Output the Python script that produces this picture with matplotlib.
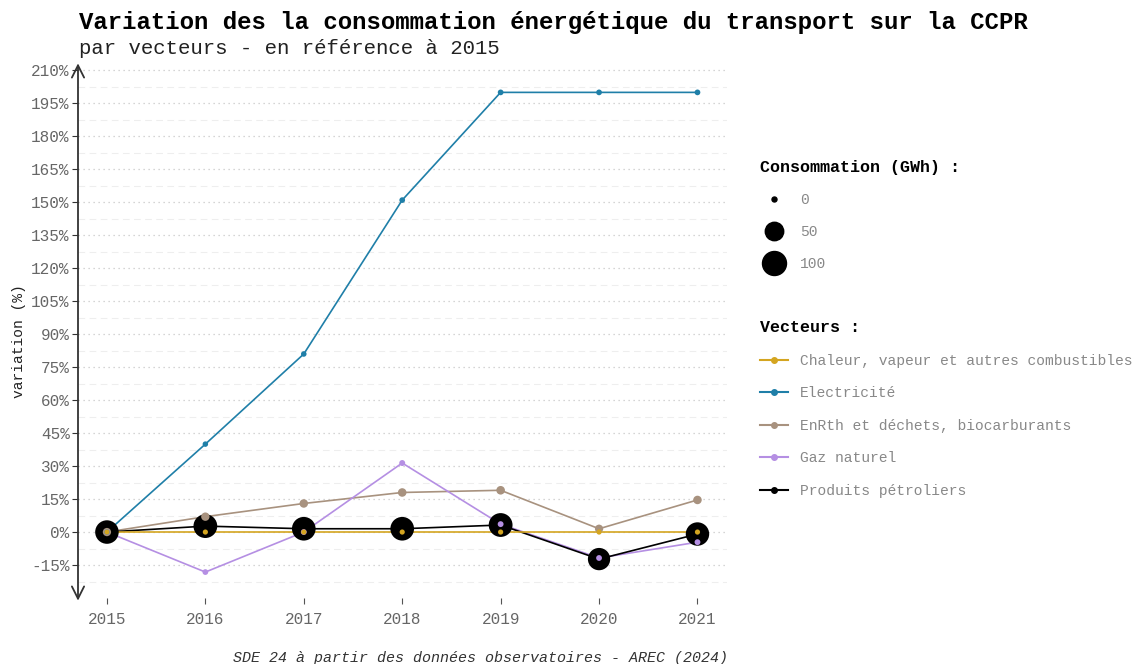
import matplotlib
matplotlib.use("Agg")
import matplotlib.pyplot as plt
from matplotlib.lines import Line2D
import numpy as np

plt.rcParams['font.family'] = ['Liberation Mono', 'DejaVu Sans Mono']

# data
years = [2015, 2016, 2017, 2018, 2019, 2020, 2021]
vecteurs = ["Chaleur, vapeur et autres combustibles", "Electricité",
            "EnRth et déchets, biocarburants", "Gaz naturel", "Produits pétroliers"]
colors = ["#d4a520", "#1f7fa8", "#a8927f", "#b58fe3", "#000000"]

var_chaleur = [0, 0, 0, 0, 0, 0, 0]
var_elec = [0, 40, 81, 151, 200, 200, 200]
var_enrth = [0, 7, 13, 18, 19, 1.5, 14.6]
var_gaz = [0, -18.2, 0, 31.4, 3.6, -11.8, -4.6]
var_petro = [0, 2.7, 1.5, 1.5, 3.2, -12.3, -0.9]

# consumption in GWh (marker size)
conso_chaleur = [0.01, 0.01, 0.01, 0.01, 0.01, 0.01, 0.01]
conso_elec = [0.05, 0.07, 0.09, 0.13, 0.15, 0.15, 0.15]
conso_enrth = [3.0, 3.2, 3.4, 3.5, 3.6, 3.0, 3.4]
conso_gaz = [0.2, 0.16, 0.2, 0.26, 0.21, 0.18, 0.19]
conso_petro = [95, 97.5, 96.4, 96.4, 98, 83, 94]

variations = [var_chaleur, var_elec, var_enrth, var_gaz, var_petro]
consos = [conso_chaleur, conso_elec, conso_enrth, conso_gaz, conso_petro]

legend_sizes = [0, 50, 100]


def diam_pt(v):
    # marker diameter (points), area scale like ggplot scale_size
    return (5 + 1.9 * np.sqrt(np.asarray(v, dtype=float))) * 0.72


fig = plt.figure(figsize=(11.44, 6.64), dpi=100)
ax = fig.add_axes([78 / 1144, 1 - 598 / 664, 649 / 1144, 532 / 664])

# lines
for i, (v, c) in enumerate(zip(variations, colors)):
    ax.plot(years, v, color=c, lw=1.2, zorder=3 + (i == 0) * 0.5)

# points, biggest first
order = [4, 2, 3, 1, 0]
for k, i in enumerate(order):
    ax.scatter(years, variations[i], s=diam_pt(consos[i]) ** 2, color=colors[i],
               zorder=4 + k, linewidths=0)

ax.set_xlim(2014.706, 2021.3)
ax.set_ylim(-30, 212)
ax.set_xticks(years)
ax.set_xticklabels([str(y) for y in years])
yt = np.arange(-15, 211, 15)
ax.set_yticks(yt)
ax.set_yticklabels([f"{t}%" for t in yt])
ax.set_yticks(np.arange(-22.5, 211, 15), minor=True)

ax.grid(axis='y', which='major', linestyle=(0, (1, 3)), color='#c8c8c8', lw=0.9)
ax.grid(axis='y', which='minor', linestyle=(0, (6, 4)), color='#eeeeee', lw=0.8)
ax.set_axisbelow(True)

for s in ax.spines.values():
    s.set_visible(False)
ax.annotate('', xy=(0, 1.005), xytext=(0, -0.005), xycoords='axes fraction',
            arrowprops=dict(arrowstyle='<->', lw=1.3, color='#333333',
                            mutation_scale=22, shrinkA=0, shrinkB=0))

ax.tick_params(axis='y', which='major', length=4, color='#333333', labelsize=11.5,
               labelcolor='#666666', pad=2)
ax.tick_params(axis='y', which='minor', length=0)
ax.tick_params(axis='x', length=4, color='#555555', labelsize=11.5,
               labelcolor='#666666', pad=6)

fig.text(19 / 1144, 1 - 341 / 664, "variation (%)", rotation=90, fontsize=10.5,
         color='#222222', va='center', ha='center')

fig.text(79 / 1144, 1 - 22 / 664, "Variation des la consommation énergétique du transport sur la CCPR",
         fontsize=17.25, fontweight='bold', va='center', ha='left')
fig.text(79 / 1144, 1 - 48 / 664, "par vecteurs - en référence à 2015",
         fontsize=14.9, va='center', ha='left', color='#222222')
fig.text(728 / 1144, 1 - 658 / 664, "SDE 24 à partir des données observatoires - AREC (2024)",
         fontsize=10.8, style='italic', va='center', ha='right', color='#333333')

# size legend
size_handles = [Line2D([], [], ls='none', marker='o', color='black',
                       markersize=diam_pt(v)) for v in legend_sizes]
leg1 = fig.legend(size_handles, [str(v) for v in legend_sizes],
                  title="Consommation (GWh) :", loc='upper left',
                  bbox_to_anchor=(747 / 1144, 1 - 147 / 664), frameon=False,
                  fontsize=10.5, title_fontproperties={'weight': 'bold', 'size': 12},
                  labelspacing=1.24, handlelength=1.9, handletextpad=0.85,
                  labelcolor='#888888')
leg1._legend_box.align = "left"

line_handles = [Line2D([], [], color=c, lw=1.5, marker='o', markersize=4)
                for c in colors]
leg2 = fig.legend(line_handles, vecteurs, title="Vecteurs :", loc='upper left',
                  bbox_to_anchor=(747 / 1144, 1 - 307 / 664), frameon=False,
                  fontsize=10.5, title_fontproperties={'weight': 'bold', 'size': 12},
                  labelspacing=1.27, handlelength=1.9, handletextpad=0.85,
                  labelcolor='#888888')
leg2._legend_box.align = "left"

fig.savefig("out.png", dpi=100, facecolor='white')
